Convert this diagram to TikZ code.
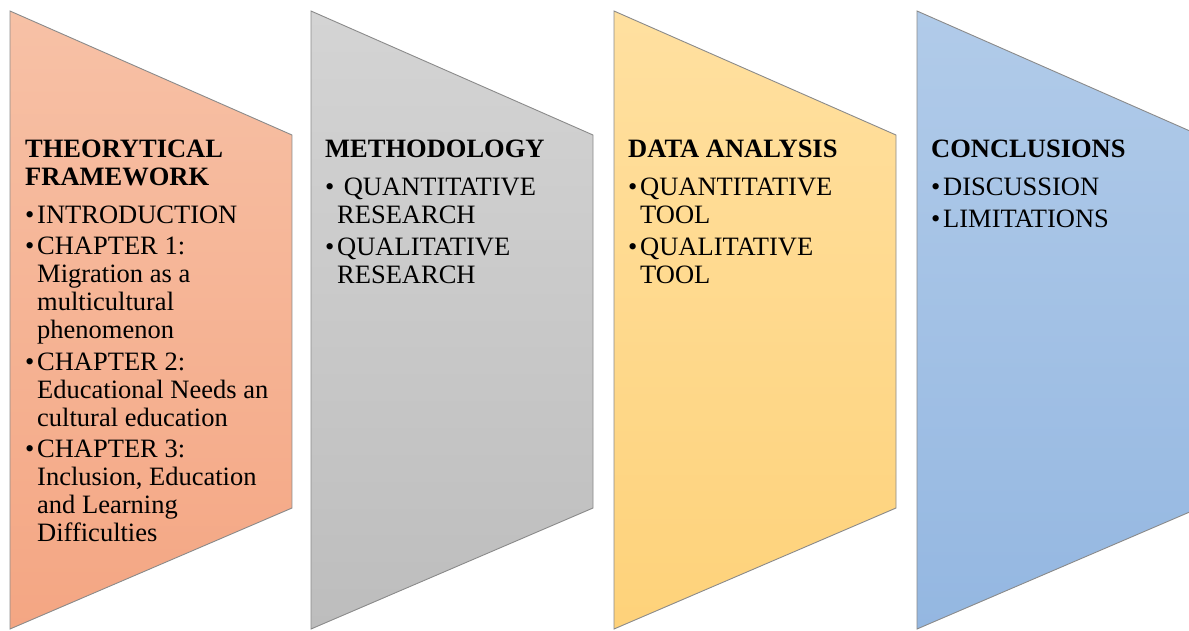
\documentclass[tikz,border=0pt]{standalone}
\usepackage{fontspec}
\setmainfont{LiberationSerif}[
  Extension=.ttf,
  UprightFont=*-Regular,
  BoldFont=*-Bold,
  ItalicFont=*-Italic,
  BoldItalicFont=*-BoldItalic]

\definecolor{salmonTop}{HTML}{F7C1A6}
\definecolor{salmonBot}{HTML}{F4A683}
\definecolor{greyTop}{HTML}{D4D4D4}
\definecolor{greyBot}{HTML}{BDBDBD}
\definecolor{goldTop}{HTML}{FFE0A0}
\definecolor{goldBot}{HTML}{FED27A}
\definecolor{blueTop}{HTML}{B1CBE9}
\definecolor{blueBot}{HTML}{94B7E1}
\definecolor{edge}{HTML}{8A8A8A}

\newcommand{\blt}{\makebox[12pt][l]{\textbullet}}
\newcommand{\hng}{\hspace*{12pt}}

\tikzset{
  panel/.style={draw=edge, line width=0.9pt, line join=miter},
  txt/.style={anchor=north west, inner sep=0pt, align=left,
    font=\fontsize{26.5}{28}\selectfont}
}

\begin{document}
\begin{tikzpicture}[x=1pt, y=-1pt]
    \useasboundingbox (0, 0) rectangle (1189, 630);

    % 形を描く
    \draw[panel, top color=salmonTop, bottom color=salmonBot]
      (10, 11) -- (292, 135) -- (292, 508) -- (10, 629) -- cycle;
    \draw[panel, top color=greyTop, bottom color=greyBot]
      (311, 11) -- (593, 135) -- (593, 508) -- (311, 629) -- cycle;
    \draw[panel, top color=goldTop, bottom color=goldBot]
      (614, 11) -- (896, 135) -- (896, 508) -- (614, 629) -- cycle;
    \draw[panel, top color=blueTop, bottom color=blueBot]
      (917, 11) -- (1199, 135) -- (1199, 508) -- (917, 629) -- cycle;

    % 文字を入れる
    \node[txt] (theory) at (25, 137.4) {%
      \strut\textbf{THEORYTICAL}\\
      \textbf{FRAMEWORK}\\[10pt]
      \blt INTRODUCTION\\[3.5pt]
      \blt CHAPTER 1:\\
      \hng Migration as a\\
      \hng multicultural\\
      \hng phenomenon\\[3.5pt]
      \blt CHAPTER 2:\\
      \hng Educational Needs an\\
      \hng cultural education\\[3.5pt]
      \blt CHAPTER 3:\\
      \hng Inclusion, Education\\
      \hng and Learning\\
      \hng Difficulties};

    \node[txt] (method) at (325, 137.4) {%
      \strut\textbf{METHODOLOGY}\\[10pt]
      \blt\ QUANTITATIVE\\
      \hng RESEARCH\\[4.5pt]
      \blt QUALITATIVE\\
      \hng RESEARCH};

    \node[txt] (analysis) at (628, 137.4) {%
      \strut\textbf{DATA ANALYSIS}\\[10pt]
      \blt QUANTITATIVE\\
      \hng TOOL\\[4.5pt]
      \blt QUALITATIVE\\
      \hng TOOL};

    \node[txt] (concl) at (931, 137.4) {%
      \strut\textbf{CONCLUSIONS}\\[10pt]
      \blt DISCUSSION\\[4pt]
      \blt LIMITATIONS};

  \end{tikzpicture}
\end{document}
